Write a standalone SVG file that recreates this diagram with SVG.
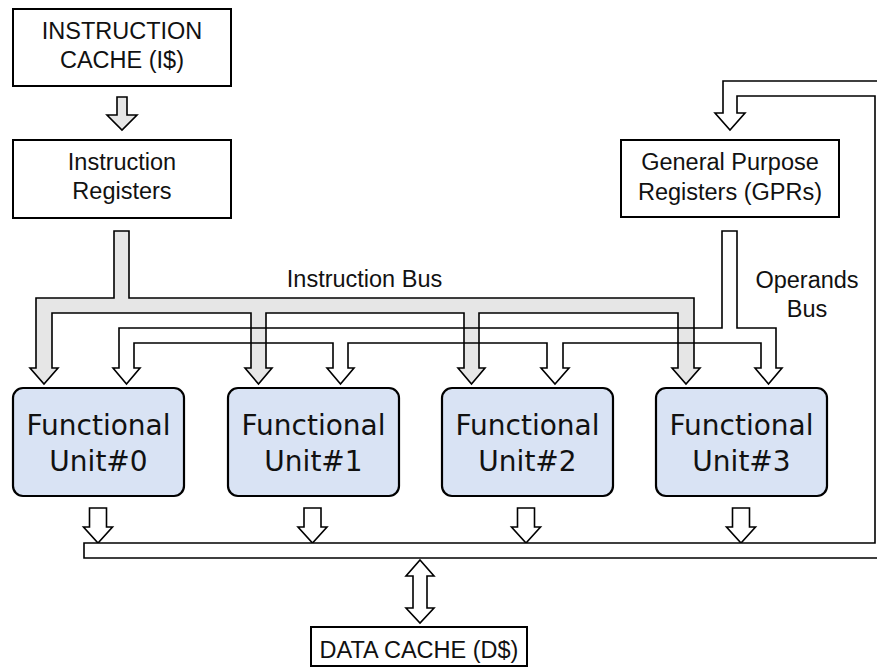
<svg xmlns="http://www.w3.org/2000/svg" width="877" height="670" viewBox="0 0 877 670">
<style>
.box{fill:#ffffff;stroke:#000000;stroke-width:2}
.fu{fill:#d9e3f4;stroke:#000000;stroke-width:2.2}
.t{font-family:"Liberation Sans",Arial,sans-serif;font-size:23.5px;fill:#111111;text-anchor:middle}
.ft{font-family:"DejaVu Sans",sans-serif;font-size:28px;fill:#111111;text-anchor:middle}
.ga{fill:#e6e6e6;stroke:#000000;stroke-width:1.6;stroke-linejoin:miter}
.wa{fill:#ffffff;stroke:#000000;stroke-width:1.6;stroke-linejoin:miter}
.na{fill:none;stroke:#000000;stroke-width:1.6;stroke-linejoin:miter}
</style>
<rect width="877" height="670" fill="#ffffff"/>
<g id="connectors">
  <path class="ga" d="M117,97 H127 V115 H137 L122,130 L107,115 H117 Z"/>
  <path class="ga" d="M114,231 V298 H36 V368 H30 L44,384 L58,368 H52 V313 H251 V368 H245 L258.5,384 L272,368 H266 V313 H464 V368 H458 L471.5,384 L485,368 H479 V313 H678 V368 H672 L686,384 L700,368 H694 V298 H129 V231 Z"/>
  <path class="na" d="M722,231 V328 H119 V368 H113 L126.5,384 L140,368 H134 V343 H333 V368 H327 L340.5,384 L354,368 H348 V343 H547 V368 H541 L555,384 L569,368 H563 V343 H761 V368 H755 L768.5,384 L782,368 H776 V328 H737 V231 Z"/>
  <path class="wa" d="M89.5,508 H106.5 V527 H112.5 L98,543 L83.5,527 H89.5 Z"/>
  <path class="wa" d="M304,508 H321 V527 H327 L312.5,543 L298,527 H304 Z"/>
  <path class="wa" d="M517.5,508 H534.5 V527 H540.5 L526,543 L511.5,527 H517.5 Z"/>
  <path class="wa" d="M732.5,508 H749.5 V527 H755.5 L741,543 L726.5,527 H732.5 Z"/>
  <path class="wa" d="M84,543 H875 V96 H737 V113 H745 L730,130 L715,113 H723 V81 H890 V558 H84 Z"/>
  <path class="wa" d="M420,560 L434,576 H427 V608 H434 L420,623 L406,608 H413 V576 H406 Z"/>
</g>
<g id="icache">
  <rect class="box" x="13" y="9" width="218" height="77"/>
  <text class="t" x="122" y="39">INSTRUCTION</text>
  <text class="t" x="122" y="68">CACHE (I$)</text>
</g>
<g id="iregs">
  <rect class="box" x="13" y="140" width="218" height="78"/>
  <text class="t" x="122" y="170">Instruction</text>
  <text class="t" x="122" y="199">Registers</text>
</g>
<g id="gprs">
  <rect class="box" x="621" y="140" width="218" height="77"/>
  <text class="t" x="730" y="170">General Purpose</text>
  <text class="t" x="730" y="200">Registers (GPRs)</text>
</g>
<g id="ibus-label">
  <text class="t" x="364.5" y="287">Instruction Bus</text>
</g>
<g id="obus-label">
  <text class="t" x="807" y="288">Operands</text>
  <text class="t" x="807" y="317">Bus</text>
</g>
<g id="fu0">
  <rect class="fu" x="13" y="388" width="171" height="108" rx="10"/>
  <text class="ft" x="98.5" y="435">Functional</text>
  <text class="ft" x="98.5" y="471">Unit#0</text>
</g>
<g id="fu1">
  <rect class="fu" x="228" y="388" width="171" height="108" rx="10"/>
  <text class="ft" x="313.5" y="435">Functional</text>
  <text class="ft" x="313.5" y="471">Unit#1</text>
</g>
<g id="fu2">
  <rect class="fu" x="442" y="388" width="171" height="108" rx="10"/>
  <text class="ft" x="527.5" y="435">Functional</text>
  <text class="ft" x="527.5" y="471">Unit#2</text>
</g>
<g id="fu3">
  <rect class="fu" x="656" y="388" width="171" height="108" rx="10"/>
  <text class="ft" x="741.5" y="435">Functional</text>
  <text class="ft" x="741.5" y="471">Unit#3</text>
</g>
<g id="dcache">
  <rect class="box" x="311" y="627" width="216" height="39"/>
  <text class="t" x="419" y="658">DATA CACHE (D$)</text>
</g>
</svg>
